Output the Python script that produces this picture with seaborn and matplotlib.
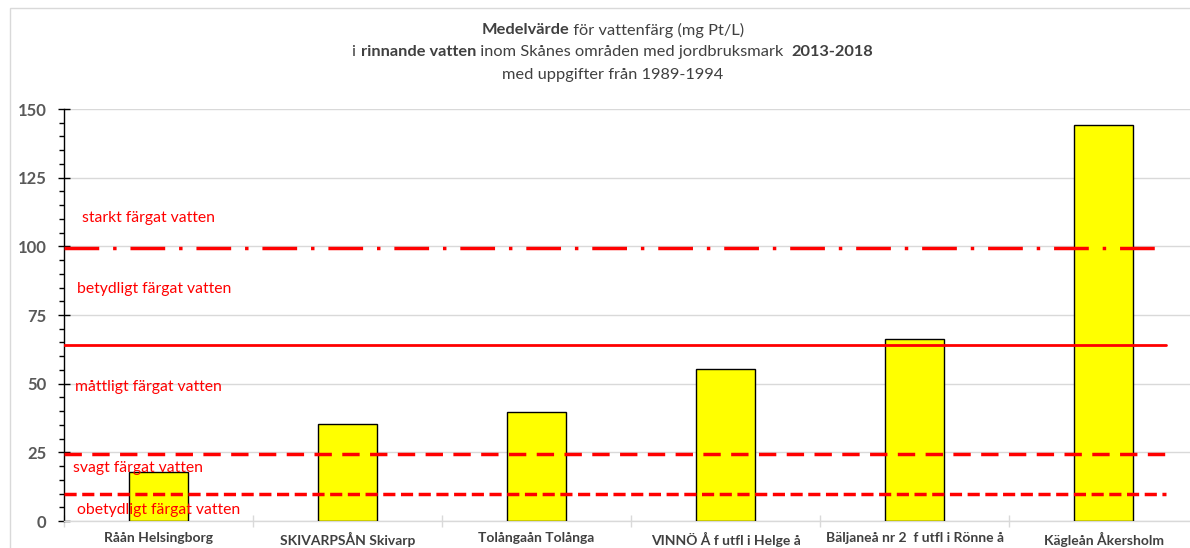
import matplotlib
matplotlib.use("Agg")
import matplotlib.pyplot as plt
from matplotlib.patches import Rectangle
from matplotlib.ticker import MultipleLocator, FixedLocator
import seaborn as sns

# data
stations = ["Råån Helsingborg", "SKIVARPSÅN Skivarp", "Tolångaån Tolånga",
            "VINNÖ Å f utfl i Helge å", "Bäljaneå nr 2  f utfl i Rönne å", "Kägleån Åkersholm"]
medelvarde = [18, 35.2, 39.7, 55.5, 66.3, 144.2]

# class limits for water colour (mg Pt/L)
limits = [99.3, 64, 24.5, 9.8]
limit_styles = [(0, (10, 4, 1, 4)), "-", (0, (5, 3)), (0, (3.5, 1.6))]
class_names = ["starkt färgat vatten", "betydligt färgat vatten", "måttligt färgat vatten",
               "svagt färgat vatten", "obetydligt färgat vatten"]
class_text_x = [-0.405, -0.432, -0.442, -0.453, -0.432]
class_text_y = [110.3, 84.5, 48.8, 19.3, 4.0]

sns.set_style("white")
plt.rcParams["font.family"] = ["Lato", "DejaVu Sans"]

W, H = 1190, 548
fig = plt.figure(figsize=(W / 100, H / 100), dpi=100)
ax = fig.add_axes([64 / W, 1 - 521 / H, (1198 - 64) / W, 412 / H])

sns.barplot(x=stations, y=medelvarde, color="#FFFF00", saturation=1,
            edgecolor="black", linewidth=1, width=0.31, ax=ax, zorder=3)

for lvl, ls in zip(limits, limit_styles):
    lw = 2.0 if ls == "-" else 2.5
    ax.plot([-0.5, 5.33], [lvl, lvl], color="#FF0000", lw=lw, linestyle=ls, zorder=4)

for name, tx, ty in zip(class_names, class_text_x, class_text_y):
    ax.text(tx, ty, name, color="#FF0000", fontsize=11.3, va="center", ha="left", zorder=5)

ax.set_xlim(-0.5, 5.5)
ax.set_ylim(0, 150)
ax.yaxis.set_major_locator(MultipleLocator(25))
ax.yaxis.set_minor_locator(MultipleLocator(5))
ax.grid(axis="y", color="#d9d9d9", lw=1)
ax.set_axisbelow(True)

for s in ["top", "right"]:
    ax.spines[s].set_visible(False)
ax.spines["left"].set_color("black")
ax.spines["left"].set_linewidth(1)
ax.spines["bottom"].set_color("#d9d9d9")
ax.spines["bottom"].set_linewidth(1)

ax.tick_params(axis="y", which="major", direction="inout", length=9, width=1, color="black",
               labelsize=12, labelcolor="#595959", pad=8, left=True)
ax.tick_params(axis="y", which="minor", direction="out", length=3.6, width=1, color="black", left=True)
for lab in ax.get_yticklabels():
    lab.set_fontweight("bold")

ax.xaxis.set_minor_locator(FixedLocator([i + 0.5 for i in range(-1, len(stations))]))
ax.tick_params(axis="x", which="major", length=0, labelsize=10, labelcolor="#404040", pad=8)
ax.tick_params(axis="x", which="minor", direction="inout", length=8, width=1, color="#d9d9d9", bottom=True)
for lab in ax.get_xticklabels():
    lab.set_fontweight("bold")
ax.set_xlabel("")
ax.set_ylabel("")

# outer chart frame
fig.patches.append(Rectangle((10 / W, -0.1), 1.1, 1.1 - 8 / H, transform=fig.transFigure,
                             fill=False, edgecolor="#d9d9d9", lw=1, zorder=0))

# title with mixed bold/regular pieces
title_lines = [
    [("Medelvärde", "bold"), (" för vattenfärg (mg Pt/L)", "normal")],
    [("i ", "normal"), ("rinnande vatten", "bold"),
     (" inom Skånes områden med jordbruksmark  ", "normal"), ("2013-2018", "bold")],
    [("med uppgifter från 1989-1994", "normal")],
]
title_y = [30, 52, 75]
cx = 613
renderer = fig.canvas.get_renderer()
for parts, py in zip(title_lines, title_y):
    texts = []
    for s, wt in parts:
        t = fig.text(0, 1 - py / H, s, fontsize=11.8, fontweight=wt, color="#404040",
                     va="center", ha="left")
        texts.append(t)
    widths = [t.get_window_extent(renderer).width for t in texts]
    x = cx - sum(widths) / 2
    for t, w in zip(texts, widths):
        t.set_x(x / W)
        x += w

fig.savefig("out.png", dpi=100)
